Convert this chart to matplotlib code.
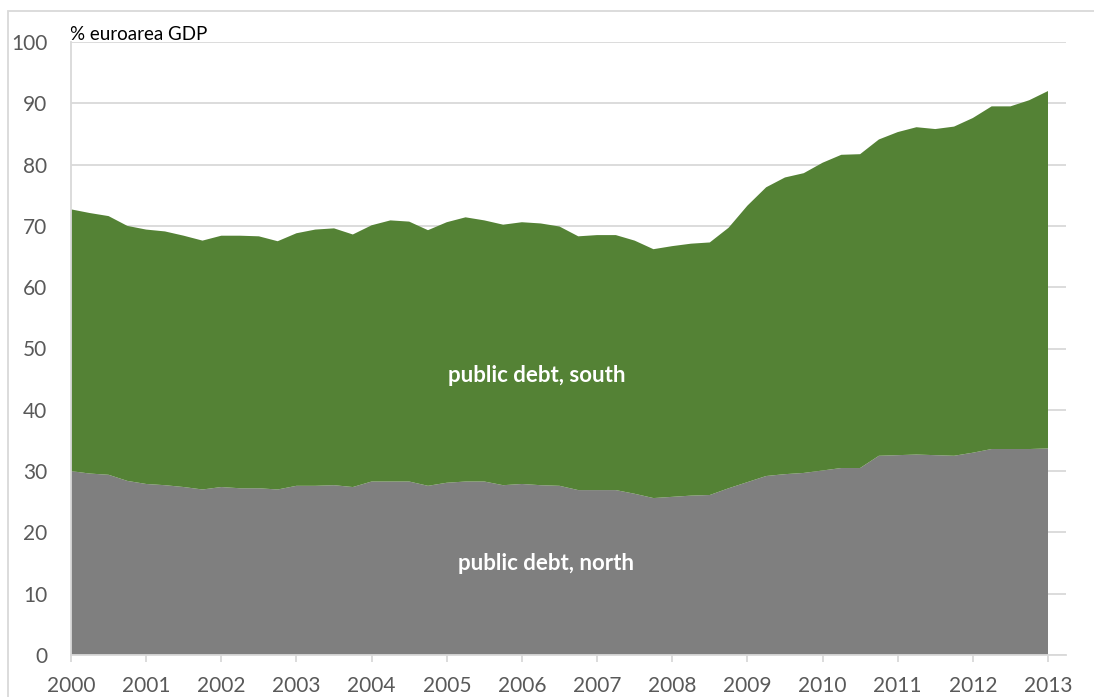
import numpy as np
import matplotlib
matplotlib.use("Agg")
import matplotlib.pyplot as plt
from matplotlib.patches import Rectangle

# quarterly data, 2000Q1 .. 2013Q1 (% of euro area GDP)
north = [30.0, 29.6, 29.4, 28.4, 27.9, 27.7, 27.4, 27.0, 27.4, 27.2, 27.2, 27.0,
         27.6, 27.6, 27.7, 27.4, 28.3, 28.3, 28.3, 27.6, 28.1, 28.3, 28.3, 27.7,
         27.9, 27.7, 27.6, 26.9, 26.9, 26.9, 26.3, 25.6, 25.8, 26.0, 26.1, 27.2,
         28.2, 29.2, 29.5, 29.7, 30.1, 30.5, 30.5, 32.5, 32.6, 32.7, 32.6, 32.5,
         33.0, 33.6, 33.6, 33.6, 33.7]
total = [72.7, 72.1, 71.6, 70.0, 69.4, 69.1, 68.4, 67.6, 68.4, 68.4, 68.3, 67.5,
         68.8, 69.4, 69.6, 68.6, 70.1, 70.9, 70.7, 69.3, 70.6, 71.4, 70.9, 70.2,
         70.6, 70.4, 69.9, 68.3, 68.5, 68.5, 67.6, 66.2, 66.7, 67.1, 67.3, 69.7,
         73.3, 76.3, 77.9, 78.6, 80.3, 81.6, 81.7, 84.1, 85.3, 86.1, 85.8, 86.2,
         87.6, 89.5, 89.5, 90.5, 92.0]
years = list(range(2000, 2014))
yticks = list(range(0, 101, 10))

dates = 2000 + np.arange(len(north)) / 4.0
south = np.array(total) - np.array(north)

W, H = 1094, 697
fig = plt.figure(figsize=(W / 100, H / 100), dpi=100)
ax = fig.add_axes([71 / W, 1 - 655 / H, (1066 - 71) / W, (655 - 42) / H])

grey = "#7F7F7F"
green = "#548235"
light = "#D9D9D9"
ax.stackplot(dates, north, south, colors=[grey, green], linewidth=0, zorder=2)

ax.set_xlim(2000, 2013 + 18 / 75.15)
ax.set_ylim(0, 100)
ax.set_xticks(years)
ax.set_xticklabels([str(y) for y in years])
ax.set_yticks(yticks)
ax.grid(axis="y", color=light, linewidth=1.3, zorder=1)
ax.set_axisbelow(True)

for s in ["top", "right"]:
    ax.spines[s].set_visible(False)
for s in ["left", "bottom"]:
    ax.spines[s].set_color(light)
    ax.spines[s].set_linewidth(1.3)
    ax.spines[s].set_zorder(3)

font = "Lato"
ax.tick_params(axis="x", length=5, width=1.3, color=light, labelcolor="#595959",
               labelsize=15, pad=10)
ax.tick_params(axis="y", length=0, labelcolor="#595959", labelsize=15, pad=17)
for lab in ax.get_xticklabels() + ax.get_yticklabels():
    lab.set_fontfamily(font)

ax.text(70 / W, 1 - 35 / H, "% euroarea GDP", transform=fig.transFigure,
        fontsize=13.5, family=font, color="black", va="center", ha="left")
ax.text(537 / W, 1 - 376 / H, "public debt, south", transform=fig.transFigure,
        fontsize=16, family=font, weight="bold", color="white", ha="center", va="center")
ax.text(546 / W, 1 - 563 / H, "public debt, north", transform=fig.transFigure,
        fontsize=16, family=font, weight="bold", color="white", ha="center", va="center")

# outer chart border
fig.patches.append(Rectangle((8 / W, -0.05), 1.1, 1.05 - 11 / H, transform=fig.transFigure,
                             fill=False, edgecolor=light, linewidth=1.3))

fig.savefig("out.png", dpi=100)
